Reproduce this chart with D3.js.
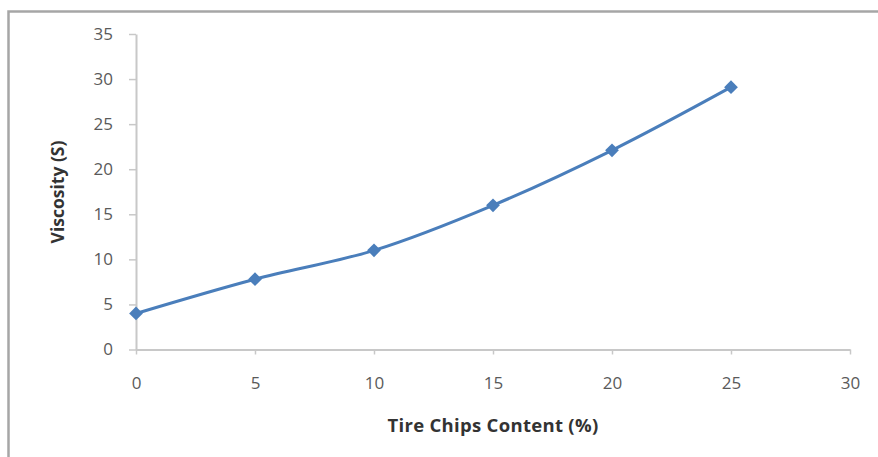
<!DOCTYPE html>
<html><head><meta charset="utf-8">
<script src="https://cdn.jsdelivr.net/npm/d3@7"></script>
<style>body{margin:0;background:#fff}svg{display:block}</style>
</head><body>
<script>
const xValues = [0, 5, 10, 15, 20, 25];
const viscosity = [4.0, 7.8, 11.0, 16.0, 22.1, 29.1];
const xTicks = [0, 5, 10, 15, 20, 25, 30];
const yTicks = [0, 5, 10, 15, 20, 25, 30, 35];
const xTitle = "Tire Chips Content (%)";
const yTitle = "Viscosity (S)";

const W = 878, H = 457;
const svg = d3.select("body").append("svg").attr("width", W).attr("height", H);
svg.append("rect").attr("x", 8.5).attr("y", 11.5).attr("width", 900).attr("height", 500)
  .attr("fill", "#fff").attr("stroke", "#a6a6a6").attr("stroke-width", 2.5);

const x = d3.scaleLinear().domain([0, 30]).range([136, 850]);
const y = d3.scaleLinear().domain([0, 35]).range([349.5, 34]);
const font = "'Open Sans', 'DejaVu Sans', sans-serif";

const gx = svg.append("g").attr("transform", "translate(0,349.5)")
  .call(d3.axisBottom(x).tickValues(xTicks).tickSize(5).tickPadding(22).tickSizeOuter(0));
const gy = svg.append("g").attr("transform", "translate(136,0)")
  .call(d3.axisLeft(y).tickValues(yTicks).tickSize(7).tickPadding(16).tickSizeOuter(0));
[gx, gy].forEach(g => {
  g.select(".domain").attr("stroke", "#c8c8c8").attr("stroke-width", 2);
  g.selectAll(".tick line").attr("stroke", "#c8c8c8").attr("stroke-width", 1.5);
  g.selectAll(".tick text").attr("fill", "#5a5a5a").attr("font-size", 17).attr("font-family", font);
});

svg.append("text").attr("x", 493).attr("y", 432).attr("text-anchor", "middle")
  .attr("font-family", font).attr("font-weight", "bold").attr("font-size", 18.5).attr("fill", "#333")
  .attr("letter-spacing", 0.3)
  .text(xTitle);
svg.append("text").attr("transform", "translate(64,192) rotate(-90)").attr("text-anchor", "middle")
  .attr("font-family", font).attr("font-weight", "bold").attr("font-size", 17.5).attr("fill", "#333")
  .text(yTitle);

const pts = xValues.map((v, i) => [v, viscosity[i]]);
const line = d3.line().x(d => x(d[0])).y(d => y(d[1])).curve(d3.curveCatmullRom.alpha(0.5));
svg.append("path").datum(pts).attr("d", line).attr("fill", "none")
  .attr("stroke", "#4a7ebb").attr("stroke-width", 3);
svg.selectAll(".m").data(pts).enter().append("path")
  .attr("d", d3.symbol().type(d3.symbolDiamond2).size(120))
  .attr("transform", d => `translate(${x(d[0])},${y(d[1])})`)
  .attr("fill", "#4a7ebb");
</script>
</body></html>
